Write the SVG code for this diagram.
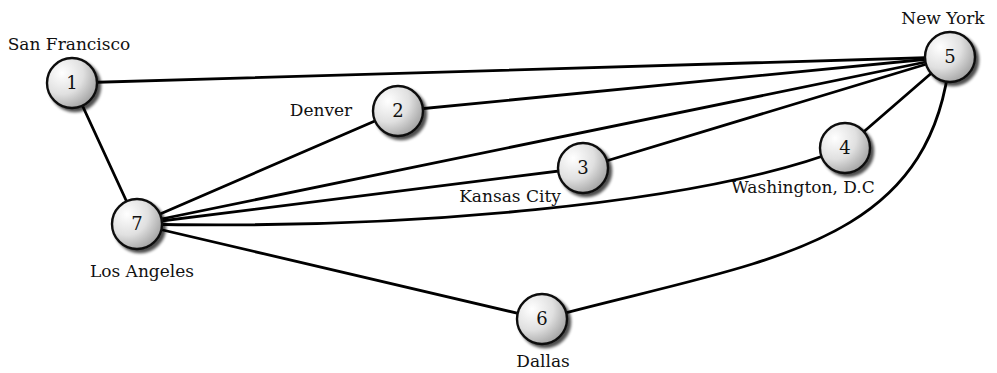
<svg xmlns="http://www.w3.org/2000/svg" width="997" height="373" viewBox="0 0 997 373">
<defs>
<radialGradient id="ng" cx="0.3" cy="0.3" r="0.85">
<stop offset="0" stop-color="#ffffff"/>
<stop offset="0.5" stop-color="#e0e0e0"/>
<stop offset="1" stop-color="#959595"/>
</radialGradient>
<filter id="sh" x="-30%" y="-30%" width="170%" height="170%">
<feGaussianBlur in="SourceAlpha" stdDeviation="1.6"/>
<feOffset dx="3" dy="3" result="b"/>
<feComponentTransfer><feFuncA type="linear" slope="0.7"/></feComponentTransfer>
<feMerge><feMergeNode/><feMergeNode in="SourceGraphic"/></feMerge>
</filter>
</defs>
<style>
.e{fill:none;stroke:#000;stroke-width:2.8;stroke-linecap:round}
.n{fill:url(#ng);stroke:#111;stroke-width:2.4;filter:url(#sh)}
.num{font-family:"DejaVu Serif","Liberation Serif",serif;font-size:18px;fill:#111;text-anchor:middle}
.lbl{font-family:"DejaVu Serif","Liberation Serif",serif;font-size:17px;fill:#111;text-anchor:middle}
</style>
<rect width="997" height="373" fill="#fff"/>
<g id="connectors">
<line class="e" x1="72" y1="83" x2="950" y2="57"/>
<line class="e" x1="72" y1="83" x2="137" y2="224"/>
<line class="e" x1="398" y1="111" x2="950" y2="57"/>
<line class="e" x1="398" y1="111" x2="137" y2="224"/>
<line class="e" x1="137" y1="224" x2="950" y2="57"/>
<line class="e" x1="137" y1="224" x2="583" y2="168"/>
<line class="e" x1="583" y1="168" x2="950" y2="57"/>
<path class="e" d="M137,224 C400,230 700,205 845,148"/>
<line class="e" x1="845" y1="148" x2="950" y2="57"/>
<line class="e" x1="137" y1="224" x2="542" y2="319"/>
<path class="e" d="M542,319 C760,260 930,250 950,57"/>
</g>
<g id="node1"><circle class="n" cx="72" cy="83" r="25"/><text class="num" x="72" y="89">1</text><text class="lbl" x="69" y="50">San Francisco</text></g>
<g id="node2"><circle class="n" cx="398" cy="111" r="25"/><text class="num" x="398" y="117">2</text><text class="lbl" x="321" y="116">Denver</text></g>
<g id="node3"><circle class="n" cx="583" cy="168" r="25"/><text class="num" x="583" y="174">3</text><text class="lbl" x="510" y="202">Kansas City</text></g>
<g id="node4"><circle class="n" cx="845" cy="148" r="25"/><text class="num" x="845" y="154">4</text><text class="lbl" x="803" y="193">Washington, D.C</text></g>
<g id="node5"><circle class="n" cx="950" cy="57" r="25"/><text class="num" x="950" y="63">5</text><text class="lbl" x="943" y="24">New York</text></g>
<g id="node6"><circle class="n" cx="542" cy="319" r="25"/><text class="num" x="542" y="325">6</text><text class="lbl" x="543" y="367">Dallas</text></g>
<g id="node7"><circle class="n" cx="137" cy="224" r="25"/><text class="num" x="137" y="230">7</text><text class="lbl" x="142" y="277">Los Angeles</text></g>
</svg>
